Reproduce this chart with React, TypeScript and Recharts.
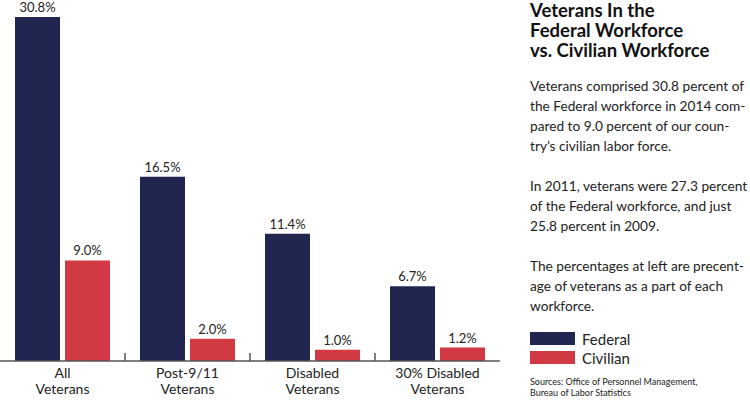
import { Bar, BarChart, LabelList, Legend, XAxis, YAxis } from "recharts";

const categories = ["All Veterans", "Post-9/11 Veterans", "Disabled Veterans", "30% Disabled Veterans"];
const seriesNames = ["Federal", "Civilian"];
const federal = [30.8, 16.5, 11.4, 6.7];
const civilian = [9.0, 2.0, 1.0, 1.2];

const NAVY = "#20264f";
const RED = "#d13a43";
const AXIS = "#555";
const FONT = "Lato, 'Open Sans', sans-serif";

const data = categories.map((name, i) => ({
  name,
  federal: federal[i],
  civilian: civilian[i]
}));

const titleLines = ["Veterans In the", "Federal Workforce", "vs. Civilian Workforce"];
const paragraphs = [
  ["Veterans comprised 30.8 percent of", "the Federal workforce in 2014 com-", "pared to 9.0 percent of our coun-", "try’s civilian labor force."],
  ["In 2011, veterans were 27.3 percent", "of the Federal workforce, and just", "25.8 percent in 2009."],
  ["The percentages at left are precent-", "age of veterans as a part of each", "workforce."]
];
const sources = ["Sources: Office of Personnel Management,", "Bureau of Labor Statistics"];

// two-line category label, plus a small separator tick at the left edge of each band
function CategoryTick(props: any) {
  const { x, y, payload, index, width } = props;
  const label: string = payload.value;
  const cut = label.lastIndexOf(" ");
  const lines = [label.slice(0, cut), label.slice(cut + 1)];
  const half = payload.offset || (width ? width / categories.length / 2 : 0);
  return (
    <g>
      {index > 0 && half > 0 && (
        <line x1={x - half} x2={x - half} y1={y - 8} y2={y} stroke={AXIS} strokeWidth={1.5} />
      )}
      <text x={x} y={y} textAnchor="middle" fill="#222" fontSize={14} fontFamily={FONT}>
        {lines.map((l, i) => (
          <tspan key={i} x={x} dy={i === 0 ? 17 : 16}>
            {l}
          </tspan>
        ))}
      </text>
    </g>
  );
}

function LegendBox(props: any) {
  const items = [...(props.payload || [])].sort(
    (a: any, b: any) => seriesNames.indexOf(a.value) - seriesNames.indexOf(b.value)
  );
  return (
    <div style={{ fontFamily: FONT, fontSize: 15, color: "#222" }}>
      {items.map((it: any) => (
        <div key={it.value} style={{ display: "flex", alignItems: "center", height: 19 }}>
          <span style={{ width: 45, height: 13, background: it.color, marginRight: 7 }} />
          {it.value}
        </div>
      ))}
    </div>
  );
}

export default function App() {
  const pct = (v: any) => `${Number(v).toFixed(1)}%`;
  return (
    <div style={{ position: "absolute", left: 0, top: 0, width: 750, height: 400, background: "#fff" }}>
      <BarChart
        width={750}
        height={400}
        data={data}
        margin={{ top: 17, right: 0, left: 0, bottom: 0 }}
        barGap={5}
        barSize={45}
      >
        <YAxis hide domain={[0, 30.8]} />
        <XAxis
          dataKey="name"
          height={39}
          interval={0}
          tickLine={false}
          tickSize={0}
          tickMargin={0}
          axisLine={{ stroke: AXIS, strokeWidth: 1.5 }}
          tick={<CategoryTick />}
        />
        <Legend
          layout="vertical"
          verticalAlign="middle"
          align="right"
          content={<LegendBox />}
          wrapperStyle={{ position: "absolute", left: 500, top: 329, width: 250, paddingLeft: 30, boxSizing: "border-box" }}
        />
        <Bar dataKey="federal" name="Federal" fill={NAVY} isAnimationActive={false}>
          <LabelList dataKey="federal" position="top" offset={5} formatter={pct} fill="#222" fontSize={13} fontFamily={FONT} />
        </Bar>
        <Bar dataKey="civilian" name="Civilian" fill={RED} isAnimationActive={false}>
          <LabelList dataKey="civilian" position="top" offset={5} formatter={pct} fill="#222" fontSize={13} fontFamily={FONT} />
        </Bar>
      </BarChart>
      <div style={{ position: "absolute", left: 530, top: 0, width: 220, fontFamily: FONT, color: "#111" }}>
        <div style={{ fontSize: 18.5, fontWeight: 700, lineHeight: "20px" }}>
          {titleLines.map((l) => (
            <div key={l}>{l}</div>
          ))}
        </div>
        {paragraphs.map((p, i) => (
          <div key={i} style={{ fontSize: 13.7, lineHeight: "20px", marginTop: i === 0 ? 16 : 20, color: "#222" }}>
            {p.map((l) => (
              <div key={l} style={{ whiteSpace: "nowrap" }}>{l}</div>
            ))}
          </div>
        ))}
      </div>
      <div style={{ position: "absolute", left: 530, top: 376, fontFamily: FONT, fontSize: 9, lineHeight: "11px", color: "#222" }}>
        {sources.map((l) => (
          <div key={l}>{l}</div>
        ))}
      </div>
    </div>
  );
}
